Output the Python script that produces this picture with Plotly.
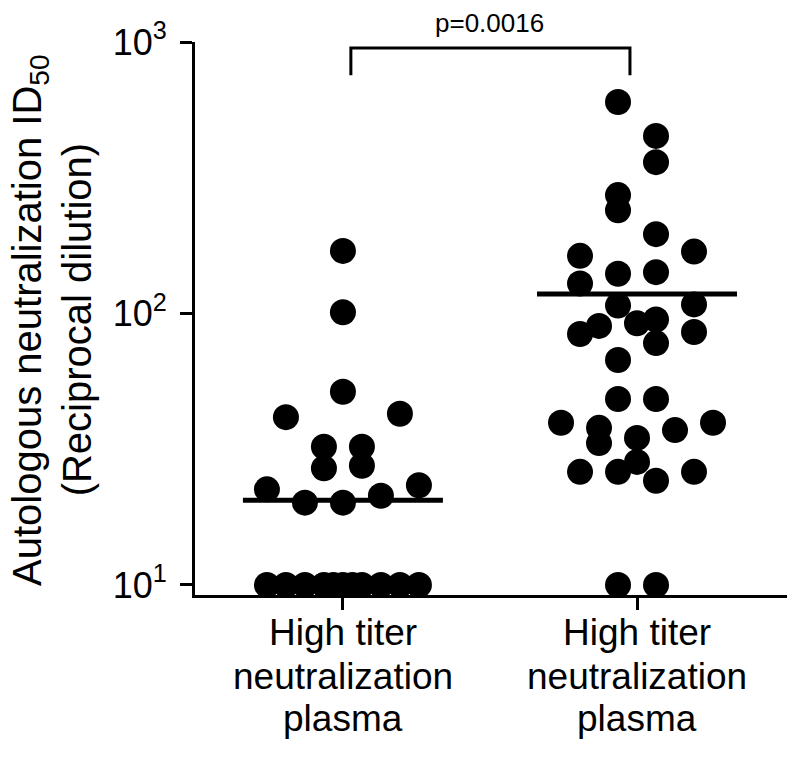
import plotly.graph_objects as go

# ---- data ----
category_lines = ["High titer", "neutralization", "plasma"]
category_positions = [0, 1]

left_values = [170, 101, 51.5, 41.5, 42.7, 32.3, 32.3, 26.9, 27.5, 22.5, 23.3, 20.1, 20.1, 21.3,
               10, 10, 10, 10, 10, 10, 10, 10, 10, 10, 10]
left_cols = [0, 0, 0, -3, 3, -1, 1, -1, 1, -4, 4, -2, 0, 2,
             -4, -3, -2, -1, -0.5, 0, 0.5, 1, 2, 3, 4]

right_values = [601, 451, 361, 273, 240, 196, 169, 163, 140, 142, 129, 108, 107, 90, 84, 92, 95,
                85.5, 77.8, 67.4, 48.4, 48.4, 39.6, 37.9, 33.3, 34.8, 37.2, 39.6, 26.1, 26.1,
                28.4, 24.2, 26.1, 10, 10]
right_cols = [-1, 1, 1, -1, -1, 1, 3, -3, -1, 1, -3, 3, -1, -2, -3, 0, 1,
              3, 1, -1, -1, 1, -4, -2, -2, 0, 2, 4, -3, -1,
              0, 1, 3, -1, 1]

medians = [20.5, 118]
p_text = "p=0.0016"
y_tickvals = [10, 100, 1000]
y_ticktext = ["10<sup>1</sup>", "10<sup>2</sup>", "10<sup>3</sup>"]

# ---- styling / layout constants ----
FONT = "Liberation Sans, Arial, Helvetica, sans-serif"
COL_STEP = 0.0646
HALF_MED = 0.34
LABEL_Y = [-0.0687, -0.1465, -0.2242]

fig = go.Figure()

for i, (vals, cols) in enumerate([(left_values, left_cols), (right_values, right_cols)]):
    fig.add_trace(go.Scatter(
        x=[i + c * COL_STEP for c in cols], y=vals, mode="markers",
        marker=dict(size=26, color="black", line=dict(width=0)),
        showlegend=False, hoverinfo="y"))

for i, m in enumerate(medians):
    fig.add_trace(go.Scatter(
        x=[i - HALF_MED, i + HALF_MED], y=[m, m], mode="lines",
        line=dict(color="black", width=5), showlegend=False, hoverinfo="skip"))

# significance bracket
bx0, bx1 = 0.027, 0.976
by_top, by_end = 950, 755
fig.add_trace(go.Scatter(
    x=[bx0, bx0, bx1, bx1], y=[by_end, by_top, by_top, by_end], mode="lines",
    line=dict(color="black", width=3), showlegend=False, hoverinfo="skip",
    cliponaxis=False))

fig.add_annotation(x=0.5, y=1.034, xref="x", yref="paper", text=p_text,
                   showarrow=False, font=dict(size=26, color="black", family=FONT),
                   xanchor="center", yanchor="middle")

# category labels (three tight lines each)
for cx in category_positions:
    for line_text, ly in zip(category_lines, LABEL_Y):
        fig.add_annotation(x=cx, y=ly, xref="x", yref="paper", text=line_text,
                           showarrow=False, font=dict(size=37, color="black", family=FONT),
                           xanchor="center", yanchor="middle")

# y-axis title (two rotated lines)
fig.add_annotation(x=-0.279, y=0.497, xref="paper", yref="paper",
                   text="Autologous neutralization ID<sub>50</sub>", textangle=-90,
                   showarrow=False, font=dict(size=40, color="black", family=FONT),
                   xanchor="center", yanchor="middle")
fig.add_annotation(x=-0.199, y=0.497, xref="paper", yref="paper",
                   text="(Reciprocal dilution)", textangle=-90,
                   showarrow=False, font=dict(size=40, color="black", family=FONT),
                   xanchor="center", yanchor="middle")

fig.update_layout(
    width=792, height=751,
    margin=dict(l=187, r=13, t=34, b=164),
    paper_bgcolor="white", plot_bgcolor="white",
    font=dict(family=FONT, color="black"),
    xaxis=dict(range=[-0.503, 1.510], tickvals=category_positions, ticktext=["", ""],
               ticks="outside", ticklen=12, tickwidth=3, tickcolor="black",
               showline=True, linewidth=3, linecolor="black",
               showgrid=False, zeroline=False, automargin=False),
    yaxis=dict(type="log", range=[0.963, 3.0], tickvals=y_tickvals, ticktext=y_ticktext,
               ticks="outside", ticklen=12, tickwidth=3, tickcolor="black",
               showline=True, linewidth=3, linecolor="black",
               showgrid=False, zeroline=False, ticklabelstandoff=6, automargin=False,
               tickfont=dict(size=36, family=FONT, color="black")),
)

fig.write_html("out.html")
